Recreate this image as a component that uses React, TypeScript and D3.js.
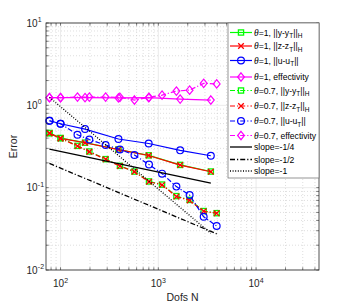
// Convergence plot (log-log) with D3
import React, { useEffect } from 'react';
import * as d3 from 'd3';

// dofs for uniform (theta=1) and adaptive (theta=0.7) refinement
const nTheta1 = [77, 100, 178, 391, 797, 1672, 3445];
const nTheta07 = [77, 100, 149, 197, 289, 405, 570, 803, 1092, 1531, 2090, 2910, 3953];

const yErr1 = [0.46, 0.4, 0.352, 0.291, 0.247, 0.189, 0.157];
const zErr1 = [0.457, 0.397, 0.351, 0.29, 0.246, 0.188, 0.156];
const uErr1 = [0.65, 0.598, 0.515, 0.39, 0.344, 0.284, 0.244];
const eff1 = [1.24, 1.24, 1.24, 1.23, 1.24, 1.19, 1.16];

const yErr07 = [0.46, 0.4, 0.322, 0.275, 0.222, 0.184, 0.157, 0.119, 0.109, 0.079, 0.071, 0.052, 0.049];
const zErr07 = [0.457, 0.397, 0.32, 0.273, 0.221, 0.183, 0.156, 0.118, 0.108, 0.078, 0.07, 0.0516, 0.0488];
const uErr07 = [0.65, 0.598, 0.44, 0.384, 0.33, 0.291, 0.249, 0.191, 0.148, 0.103, 0.0813, 0.0443, 0.0342];
const eff07 = [1.24, 1.24, 1.26, 1.26, 1.26, 1.25, 1.16, 1.25, 1.33, 1.49, 1.53, 1.85, 1.82];

// reference slopes, end points
const slopeQuarterN = [77, 3445];
const slopeQuarter = [0.294, 0.1137];
const slopeHalfN = [77, 3953];
const slopeHalf = [0.197, 0.0275];
const slopeOneN = [77, 3445];
const slopeOne = [1.25, 0.0279];

const xTicks = [100, 1000, 10000];
const yTicks = [0.01, 0.1, 1, 10];

type Marker = 'square' | 'x' | 'circle' | 'diamond' | 'none';
interface Series {
  label: string[]; // [after theta, subscript, rest, subscript]
  xs: number[];
  ys: number[];
  color: string;
  marker: Marker;
  dash: string | null;
  width: number;
}

const DASHDOT = '5,2,1.2,2';
const DOT = '1,1.6';

const series: Series[] = [
  { label: ['=1, ||y-y', 'T', '||', 'H'], xs: nTheta1, ys: yErr1, color: '#00ff00', marker: 'square', dash: null, width: 1.2 },
  { label: ['=1, ||z-z', 'T', '||', 'H'], xs: nTheta1, ys: zErr1, color: '#ff0000', marker: 'x', dash: null, width: 1.2 },
  { label: ['=1, ||u-u', 'T', '||', ''], xs: nTheta1, ys: uErr1, color: '#0000ff', marker: 'circle', dash: null, width: 1.2 },
  { label: ['=1, effectivity', '', '', ''], xs: nTheta1, ys: eff1, color: '#ff00ff', marker: 'diamond', dash: null, width: 1.2 },
  { label: ['=0.7, ||y-y', 'T', '||', 'H'], xs: nTheta07, ys: yErr07, color: '#00ff00', marker: 'square', dash: DASHDOT, width: 1.2 },
  { label: ['=0.7, ||z-z', 'T', '||', 'H'], xs: nTheta07, ys: zErr07, color: '#ff0000', marker: 'x', dash: DASHDOT, width: 1.2 },
  { label: ['=0.7, ||u-u', 'T', '||', ''], xs: nTheta07, ys: uErr07, color: '#0000ff', marker: 'circle', dash: DASHDOT, width: 1.2 },
  { label: ['=0.7, effectivity', '', '', ''], xs: nTheta07, ys: eff07, color: '#ff00ff', marker: 'diamond', dash: DASHDOT, width: 1.2 },
];

const slopes = [
  { label: 'slope=-1/4', xs: slopeQuarterN, ys: slopeQuarter, dash: null as string | null },
  { label: 'slope=-1/2', xs: slopeHalfN, ys: slopeHalf, dash: DASHDOT },
  { label: 'slope=-1', xs: slopeOneN, ys: slopeOne, dash: DOT },
];

const SANS = '"Liberation Sans", Arial, Helvetica, sans-serif';
const SERIF = '"Liberation Serif", "Times New Roman", serif';

function drawMarker(g: d3.Selection<SVGGElement, unknown, null, undefined>, m: Marker, x: number, y: number, color: string) {
  if (m === 'square') {
    g.append('rect').attr('x', x - 2.6).attr('y', y - 2.6).attr('width', 5.2).attr('height', 5.2)
      .attr('fill', 'none').attr('stroke', color).attr('stroke-width', 1.3);
  } else if (m === 'x') {
    const s = 2.8;
    g.append('path').attr('d', `M${x - s},${y - s}L${x + s},${y + s}M${x - s},${y + s}L${x + s},${y - s}`)
      .attr('stroke', color).attr('stroke-width', 1.3).attr('fill', 'none');
  } else if (m === 'circle') {
    g.append('circle').attr('cx', x).attr('cy', y).attr('r', 3.4)
      .attr('fill', 'none').attr('stroke', color).attr('stroke-width', 1.2);
  } else if (m === 'diamond') {
    g.append('path').attr('d', `M${x},${y - 4.2}L${x + 3.4},${y}L${x},${y + 4.2}L${x - 3.4},${y}Z`)
      .attr('fill', 'none').attr('stroke', color).attr('stroke-width', 1.2);
  }
}

const ConvergenceChart = () => {
  const svgRef = React.useRef<SVGSVGElement>(null);

  useEffect(() => {
    if (!svgRef.current) return;
    const W = 354, H = 305;
    const margin = { top: 23, right: 35, bottom: 35, left: 46 };
    const width = W - margin.left - margin.right;
    const height = H - margin.top - margin.bottom;

    const svg = d3.select(svgRef.current).attr('width', W).attr('height', H);
    svg.selectAll('*').remove();

    const g = svg.append('g').attr('transform', `translate(${margin.left},${margin.top})`);

    const xScale = d3.scaleLog().domain([71, 44000]).range([0, width]);
    const yScale = d3.scaleLog().domain([0.01, 10]).range([height, 0]);

    g.append('rect').attr('width', width).attr('height', height).attr('fill', '#fff');

    // minor + major grid
    const xMinor: number[] = [];
    for (let e = 1; e <= 4; e++) for (let k = 2; k <= 9; k++) {
      const v = k * Math.pow(10, e);
      if (v > 71 && v < 44000) xMinor.push(v);
    }
    const yMinor: number[] = [];
    for (let e = -2; e <= 0; e++) for (let k = 2; k <= 9; k++) yMinor.push(k * Math.pow(10, e));

    const grid = g.append('g');
    xMinor.forEach(v => grid.append('line').attr('x1', xScale(v)).attr('x2', xScale(v)).attr('y1', 0).attr('y2', height)
      .attr('stroke', '#c8c8c8').attr('stroke-width', 0.6).attr('stroke-dasharray', '1,2'));
    yMinor.forEach(v => grid.append('line').attr('y1', yScale(v)).attr('y2', yScale(v)).attr('x1', 0).attr('x2', width)
      .attr('stroke', '#c8c8c8').attr('stroke-width', 0.6).attr('stroke-dasharray', '1,2'));
    xTicks.forEach(v => grid.append('line').attr('x1', xScale(v)).attr('x2', xScale(v)).attr('y1', 0).attr('y2', height)
      .attr('stroke', '#e3e3e3').attr('stroke-width', 0.7));
    yTicks.forEach(v => grid.append('line').attr('y1', yScale(v)).attr('y2', yScale(v)).attr('x1', 0).attr('x2', width)
      .attr('stroke', '#e3e3e3').attr('stroke-width', 0.7));

    // series
    const line = d3.line<[number, number]>().x(d => xScale(d[0])).y(d => yScale(d[1]));
    series.forEach(s => {
      const pts = s.xs.map((x, i) => [x, s.ys[i]] as [number, number]);
      g.append('path').attr('d', line(pts)).attr('fill', 'none').attr('stroke', s.color)
        .attr('stroke-width', s.width).attr('stroke-dasharray', s.dash);
      const mg = g.append('g');
      pts.forEach(p => drawMarker(mg, s.marker, xScale(p[0]), yScale(p[1]), s.color));
    });

    slopes.forEach(s => {
      const pts = s.xs.map((x, i) => [x, s.ys[i]] as [number, number]);
      g.append('path').attr('d', line(pts)).attr('fill', 'none').attr('stroke', '#000')
        .attr('stroke-width', 1.3).attr('stroke-dasharray', s.dash);
    });

    // axes box and ticks (inward, all sides)
    const axisColor = '#262626';
    const ax = g.append('g');
    const tl = 2.7;
    [...xTicks, ...xMinor].forEach(v => {
      const x = xScale(v);
      ax.append('line').attr('x1', x).attr('x2', x).attr('y1', height).attr('y2', height - tl).attr('stroke', axisColor).attr('stroke-width', 0.6);
      ax.append('line').attr('x1', x).attr('x2', x).attr('y1', 0).attr('y2', tl).attr('stroke', axisColor).attr('stroke-width', 0.6);
    });
    [...yTicks, ...yMinor].forEach(v => {
      const y = yScale(v);
      ax.append('line').attr('y1', y).attr('y2', y).attr('x1', 0).attr('x2', tl).attr('stroke', axisColor).attr('stroke-width', 0.6);
      ax.append('line').attr('y1', y).attr('y2', y).attr('x1', width).attr('x2', width - tl).attr('stroke', axisColor).attr('stroke-width', 0.6);
    });
    ax.append('rect').attr('width', width).attr('height', height).attr('fill', 'none')
      .attr('stroke', axisColor).attr('stroke-width', 0.8);

    // tick labels
    xTicks.forEach(v => {
      const t = g.append('text').attr('x', xScale(v)).attr('y', height + 17).attr('text-anchor', 'middle')
        .attr('font-family', SANS).attr('font-size', 10).attr('fill', axisColor);
      t.append('tspan').text('10');
      t.append('tspan').attr('dy', -4.5).attr('font-size', 7).text(String(Math.round(Math.log10(v))));
    });
    yTicks.forEach(v => {
      const y = yScale(v);
      g.append('text').attr('x', -8.5).attr('y', y + 3.5).attr('text-anchor', 'end')
        .attr('font-family', SANS).attr('font-size', 10).attr('fill', axisColor).text('10');
      g.append('text').attr('x', -8.2).attr('y', y - 1).attr('text-anchor', 'start')
        .attr('font-family', SANS).attr('font-size', 7).attr('fill', axisColor).text(String(Math.round(Math.log10(v))));
    });

    // axis labels
    svg.append('text').attr('x', margin.left + width / 2).attr('y', 301).attr('text-anchor', 'middle')
      .attr('font-family', SANS).attr('font-size', 10.5).attr('fill', axisColor).text('Dofs N');
    svg.append('text').attr('transform', `translate(17,${margin.top + height / 2}) rotate(-90)`)
      .attr('text-anchor', 'middle').attr('font-family', SANS).attr('font-size', 10.5).attr('fill', axisColor).text('Error');

    // legend
    const lx = 228 - margin.left, ly = 0;
    const lw = 319 - 228, lh = 178 - 23;
    const leg = g.append('g').attr('transform', `translate(${lx},${ly})`);
    leg.append('rect').attr('width', lw).attr('height', lh).attr('fill', '#fff')
      .attr('stroke', '#7a7a7a').attr('stroke-width', 0.8);
    const rowY = [9.5, 23, 37.5, 54, 67.5, 83, 98, 112.5, 124, 136.5, 148];
    series.forEach((s, i) => {
      const y = rowY[i];
      leg.append('line').attr('x1', 2).attr('x2', 24).attr('y1', y).attr('y2', y)
        .attr('stroke', s.color).attr('stroke-width', s.width).attr('stroke-dasharray', s.dash);
      drawMarker(leg, s.marker, 13, y, s.color);
      const t = leg.append('text').attr('x', 26).attr('y', y + 3).attr('font-family', SANS)
        .attr('font-size', 8.6).attr('fill', '#000');
      t.append('tspan').attr('font-family', SERIF).attr('font-style', 'italic').attr('font-size', 9.5).text('θ');
      t.append('tspan').text(s.label[0]);
      if (s.label[1]) t.append('tspan').attr('dy', 2.5).attr('font-size', 6.5).text(s.label[1]);
      if (s.label[2]) t.append('tspan').attr('dy', -2.5).text(s.label[2]);
      if (s.label[3]) t.append('tspan').attr('dy', 2.5).attr('font-size', 6.5).text(s.label[3]);
    });
    slopes.forEach((s, j) => {
      const y = rowY[series.length + j];
      leg.append('line').attr('x1', 2).attr('x2', 24).attr('y1', y).attr('y2', y)
        .attr('stroke', '#000').attr('stroke-width', 1.3).attr('stroke-dasharray', s.dash);
      leg.append('text').attr('x', 26).attr('y', y + 3).attr('font-family', SANS)
        .attr('font-size', 8.6).attr('fill', '#000').text(s.label);
    });
  }, []);

  return <svg ref={svgRef} style={{ display: 'block' }} />;
};

export default function App() {
  return (
    <div style={{ position: 'absolute', left: 0, top: 0 }}>
      <ConvergenceChart />
    </div>
  );
}
